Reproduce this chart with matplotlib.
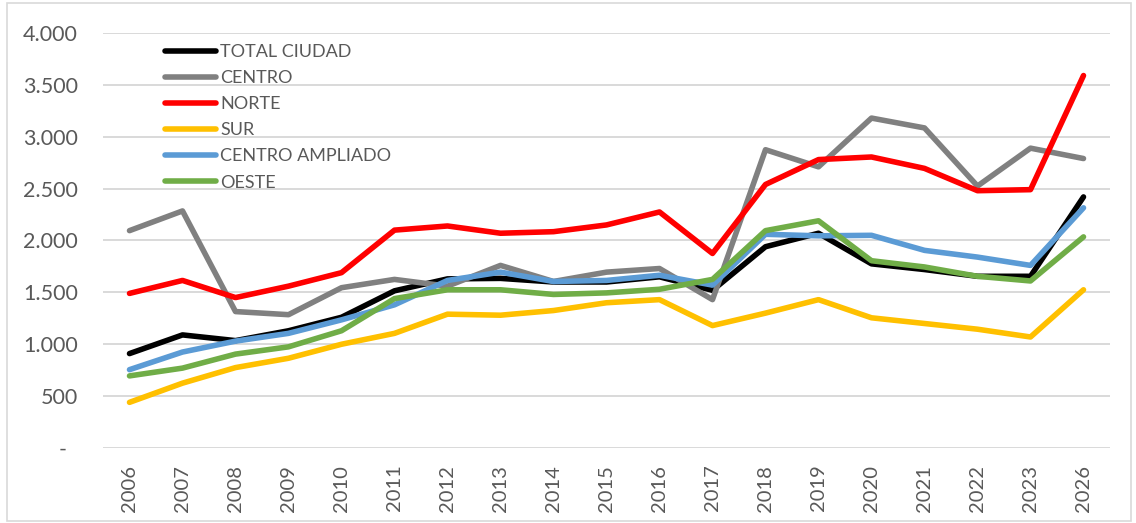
import matplotlib.pyplot as plt
from matplotlib.patches import Rectangle
from matplotlib.ticker import FuncFormatter

plt.rcParams['font.family'] = ['Lato', 'DejaVu Sans']

years = ['2006', '2007', '2008', '2009', '2010', '2011', '2012', '2013', '2014', '2015',
         '2016', '2017', '2018', '2019', '2020', '2021', '2022', '2023', '2026']

total_ciudad = [910, 1090, 1035, 1130, 1260, 1515, 1630, 1635, 1600, 1600,
                1650, 1520, 1940, 2070, 1775, 1720, 1655, 1655, 2420]
centro = [2095, 2285, 1315, 1285, 1545, 1625, 1560, 1760, 1605, 1695,
          1730, 1430, 2875, 2710, 3180, 3085, 2525, 2890, 2790]
norte = [1490, 1615, 1450, 1560, 1690, 2100, 2140, 2070, 2085, 2150,
         2275, 1875, 2540, 2780, 2805, 2695, 2480, 2490, 3590]
sur = [440, 625, 775, 865, 1000, 1105, 1290, 1280, 1325, 1400,
       1430, 1180, 1300, 1430, 1255, 1200, 1145, 1070, 1525]
centro_ampliado = [755, 925, 1030, 1105, 1235, 1380, 1615, 1695, 1605, 1615,
                   1665, 1570, 2060, 2045, 2050, 1905, 1840, 1760, 2315]
oeste = [695, 770, 905, 975, 1130, 1440, 1525, 1525, 1480, 1495,
         1530, 1625, 2095, 2190, 1805, 1745, 1655, 1610, 2035]

series = [
    ('TOTAL CIUDAD', total_ciudad, '#000000'),
    ('CENTRO', centro, '#808080'),
    ('NORTE', norte, '#FF0000'),
    ('SUR', sur, '#FFC000'),
    ('CENTRO AMPLIADO', centro_ampliado, '#5B9BD5'),
    ('OESTE', oeste, '#70AD47'),
]

fig = plt.figure(figsize=(11.36, 5.23), dpi=100)
ax = fig.add_axes([103 / 1136, 1 - 448 / 523, (1110 - 103) / 1136, (448 - 33) / 523])

x = range(len(years))
for name, vals, col in series:
    ax.plot(x, vals, color=col, lw=4, label=name, solid_capstyle='round', solid_joinstyle='round')

ax.set_xlim(-0.5, len(years) - 0.5)
ax.set_ylim(0, 4000)
ax.set_yticks(range(0, 4001, 500))
ax.yaxis.set_major_formatter(FuncFormatter(
    lambda v, p: '-  ' if v == 0 else f'{int(v):,}'.replace(',', '.')))
ax.set_xticks(list(x))
ax.set_xticklabels(years, rotation=90)
ax.grid(axis='y', color='#D9D9D9', lw=1.4)
ax.set_axisbelow(True)
for s in ax.spines.values():
    s.set_visible(False)
ax.tick_params(axis='both', length=0, labelcolor='#595959')
ax.tick_params(axis='y', pad=18, labelsize=15.5)
ax.tick_params(axis='x', pad=12, labelsize=14.5)

leg = ax.legend(loc='upper left', bbox_to_anchor=(165 / 1136, 1 - 44 / 523),
                bbox_transform=fig.transFigure, frameon=False, fontsize=13,
                handlelength=2.8, handletextpad=0.25, labelspacing=0.56,
                borderaxespad=0, borderpad=0)
for t in leg.get_texts():
    t.set_color('#595959')

fig.patches.append(Rectangle((7 / 1136, 2 / 523), 1124 / 1136, 518 / 523,
                             transform=fig.transFigure, fill=False,
                             edgecolor='#D9D9D9', lw=1.2))

fig.savefig('out.png', dpi=100)
